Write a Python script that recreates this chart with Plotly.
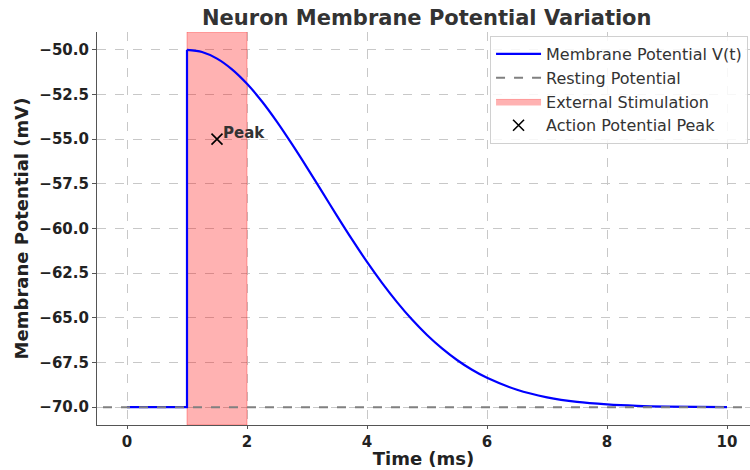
import plotly.graph_objects as go

# ---- data ----
base_t = [0.0, 1.0, 1.0]
base_v = [-70.0, -70.0, -50.0]

decay_t = [1.0, 1.25, 1.5, 1.75, 2.0, 2.25, 2.5, 2.75, 3.0, 3.25, 3.5, 3.75,
           4.0, 4.25, 4.5, 4.75, 5.0, 5.25, 5.5, 5.75, 6.0, 6.5, 7.0, 7.5,
           8.0, 8.5, 9.0, 10.0]
decay_v = [-50.00, -50.12, -50.49, -51.09, -51.90, -52.89, -54.03, -55.28,
           -56.59, -57.94, -59.29, -60.61, -61.87, -63.04, -64.12, -65.10,
           -65.96, -66.71, -67.36, -67.91, -68.36, -69.03, -69.45, -69.71,
           -69.85, -69.93, -69.97, -70.00]

resting_v = -70.0
stim_start, stim_end = 1.0, 2.0
peak_t, peak_v = 1.5, -55.0
peak_label = "Peak"

x_ticks = [0, 2, 4, 6, 8, 10]
y_ticks = [-50.0, -52.5, -55.0, -57.5, -60.0, -62.5, -65.0, -67.5, -70.0]
x_range = [-0.5, 10.383]
y_range = [-71.0, -49.0]

FONT = "DejaVu Sans"

fig = go.Figure()

# stimulation span (drawn first, under the curve)
fig.add_trace(go.Scatter(
    x=[stim_start, stim_end, stim_end, stim_start, stim_start],
    y=[y_range[0], y_range[0], y_range[1], y_range[1], y_range[0]],
    fill="toself", mode="lines",
    fillcolor="rgba(255,0,0,0.3)",
    line=dict(color="rgba(255,0,0,0.3)", width=1),
    name="External Stimulation", legendrank=3, hoverinfo="skip"))

# membrane potential
fig.add_trace(go.Scatter(
    x=base_t, y=base_v, mode="lines",
    line=dict(color="#0000ff", width=2.2),
    name="Membrane Potential V(t)", legendgroup="v", legendrank=1))
fig.add_trace(go.Scatter(
    x=decay_t, y=decay_v, mode="lines",
    line=dict(color="#0000ff", width=2.2, shape="spline", smoothing=0.8),
    name="Membrane Potential V(t)", legendgroup="v", showlegend=False))

# resting potential
fig.add_trace(go.Scatter(
    x=[-1, 11], y=[resting_v, resting_v], mode="lines",
    line=dict(color="#808080", width=2, dash="dash"),
    name="Resting Potential", legendrank=2))

# peak marker
fig.add_trace(go.Scatter(
    x=[peak_t], y=[peak_v], mode="markers",
    marker=dict(symbol="x-thin", size=11, line=dict(color="black", width=1.6)),
    name="Action Potential Peak", legendrank=4))

fig.add_annotation(x=peak_t + 0.07, y=peak_v, text="<b>" + peak_label + "</b>",
                   showarrow=False, xanchor="left", yanchor="bottom",
                   yshift=-5,
                   font=dict(family=FONT, size=15, color="#333333"))

fig.update_layout(
    width=750, height=470,
    margin=dict(l=97, r=0, t=32, b=45),
    paper_bgcolor="white", plot_bgcolor="white",
    font=dict(family=FONT, color="#222222"),
    title=dict(text="<b>Neuron Membrane Potential Variation</b>",
               x=0.505, xref="paper", xanchor="center",
               y=0.962, yref="container", yanchor="middle",
               font=dict(family=FONT, size=21, color="#333333")),
    legend=dict(x=0.997, y=0.99, xanchor="right", yanchor="top",
                bgcolor="rgba(255,255,255,0.85)", bordercolor="#d0d0d0",
                borderwidth=1, font=dict(family=FONT, size=16, color="#333333"),
                traceorder="normal", itemwidth=45, tracegroupgap=0),
    showlegend=True,
)

fig.update_xaxes(
    range=x_range, tickvals=x_ticks, ticktext=[str(v) for v in x_ticks],
    showgrid=True, gridcolor="#c8c8c8", griddash="dash", gridwidth=1,
    zeroline=False, showline=True, linecolor="#555555", linewidth=1.2,
    ticks="outside", ticklen=3, tickcolor="#555555",
    tickfont=dict(family=FONT, size=15, color="#222222", weight="bold"),
    title=dict(text="<b>Time (ms)</b>", standoff=2,
               font=dict(family=FONT, size=18, color="#222222")),
)
fig.update_yaxes(
    range=y_range, tickvals=y_ticks, tickformat=".1f",
    showgrid=True, gridcolor="#c8c8c8", griddash="dash", gridwidth=1,
    zeroline=False, showline=True, linecolor="#555555", linewidth=1.2,
    ticks="outside", ticklen=4, tickcolor="#555555",
    tickfont=dict(family=FONT, size=15, color="#222222", weight="bold"),
    title=dict(text="<b>Membrane Potential (mV)</b>", standoff=6,
               font=dict(family=FONT, size=18, color="#222222")),
)

fig.write_html("out.html", config={"displayModeBar": False},
               post_script="document.body.style.margin='0';"
                           "document.body.style.overflow='hidden';")
